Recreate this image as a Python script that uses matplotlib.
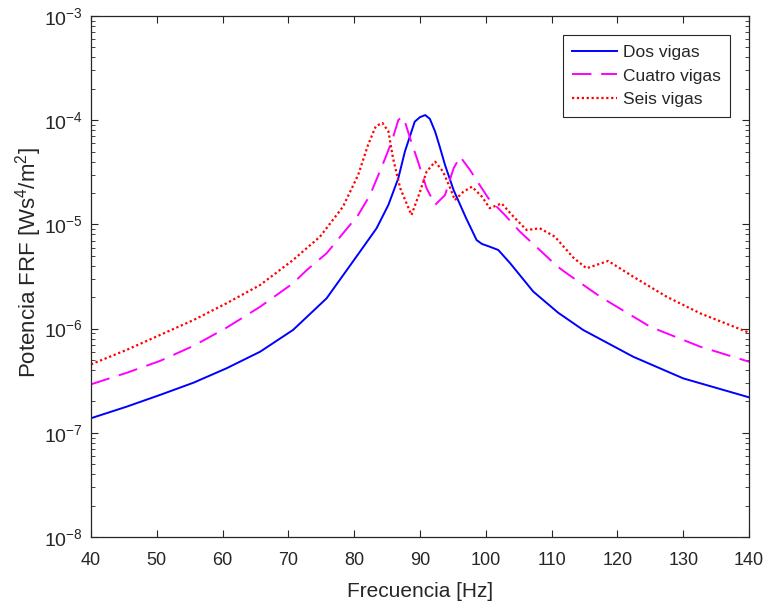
import matplotlib
matplotlib.use("Agg")
import matplotlib.pyplot as plt
from matplotlib.ticker import LogLocator, NullFormatter

plt.rcParams['font.family'] = ['Liberation Sans', 'DejaVu Sans']
plt.rcParams['mathtext.fontset'] = 'custom'
plt.rcParams['mathtext.rm'] = 'Liberation Sans'
plt.rcParams['mathtext.it'] = 'Liberation Sans:italic'
plt.rcParams['mathtext.default'] = 'regular'

# ---- data ----
freq_dos = [40, 45.4, 50.5, 55.6, 60.6, 65.7, 70.7, 75.8, 80.9, 83.4, 85.2, 86.7, 87.7,
            89.2, 90.0, 90.8, 91.5, 92.3, 93.0, 93.8, 95.1, 97.0, 98.6, 99.4, 100.6, 101.9,
            103.7, 107.2, 111.0, 114.8, 122.4, 130.0, 140]
pot_dos = [1.38e-7, 1.78e-7, 2.31e-7, 3.03e-7, 4.16e-7, 6.0e-7, 9.7e-7, 1.95e-6, 5.5e-6,
           9.18e-6, 1.54e-5, 2.77e-5, 4.99e-5, 9.68e-5, 1.07e-4, 1.12e-4, 1.03e-4, 7.76e-5,
           5.57e-5, 3.72e-5, 2.14e-5, 1.15e-5, 7.08e-6, 6.5e-6, 6.11e-6, 5.68e-6, 4.24e-6,
           2.27e-6, 1.42e-6, 9.7e-7, 5.37e-7, 3.33e-7, 2.19e-7]

freq_cuatro = [40, 45.4, 50.5, 55.6, 60.6, 65.7, 70.7, 72.8, 75.8, 80.6, 82.4, 84.2, 85.7,
               86.7, 87.2, 87.7, 88.5, 89.7, 91.0, 92.3, 93.8, 95.1, 96.1, 97.6, 98.9,
               100.4, 102.9, 105.2, 108.2, 110.8, 112.3, 117.4, 125.0, 132.6, 140]
pot_cuatro = [2.92e-7, 3.76e-7, 4.9e-7, 6.84e-7, 1.02e-6, 1.62e-6, 2.72e-6, 3.65e-6,
              5.28e-6, 1.23e-5, 1.91e-5, 3.58e-5, 6.22e-5, 1.0e-4, 1.08e-4, 9.7e-5, 6.7e-5,
              4.0e-5, 2.22e-5, 1.54e-5, 1.91e-5, 3.45e-5, 4.47e-5, 3.33e-5, 2.48e-5,
              1.78e-5, 1.23e-5, 8.5e-6, 5.68e-6, 3.98e-6, 3.39e-6, 2.02e-6, 1.04e-6,
              6.7e-7, 4.81e-7]

freq_seis = [40, 45.4, 50.5, 55.6, 60.6, 65.7, 70.7, 74.8, 78.3, 80.6, 82.1, 83.3, 84.3,
             85.2, 85.9, 87.0, 88.7, 90.0, 91.0, 92.3, 93.5, 94.6, 95.3, 96.6, 97.9, 99.4,
             100.6, 102.4, 104.2, 106.2, 108.2, 110.5, 113.3, 115.3, 118.6, 122.4, 127.5,
             132.6, 140]
pot_seis = [4.54e-7, 6.24e-7, 8.69e-7, 1.21e-6, 1.75e-6, 2.62e-6, 4.55e-6, 7.62e-6,
            1.48e-5, 2.98e-5, 5.78e-5, 8.8e-5, 9.4e-5, 7.8e-5, 4.31e-5, 2.22e-5, 1.23e-5,
            2.06e-5, 3.21e-5, 4.0e-5, 3.21e-5, 2.22e-5, 1.71e-5, 2.06e-5, 2.30e-5, 1.85e-5,
            1.43e-5, 1.59e-5, 1.19e-5, 8.83e-6, 9.18e-6, 7.62e-6, 4.8e-6, 3.79e-6, 4.46e-6,
            3.15e-6, 2.02e-6, 1.40e-6, 9.14e-7]

labels = ['Dos vigas', 'Cuatro vigas', 'Seis vigas']
x_ticks = [40, 50, 60, 70, 80, 90, 100, 110, 120, 130, 140]

# ---- figure ----
W, H = 767, 607
fig = plt.figure(figsize=(W / 100, H / 100), dpi=100)
ax = fig.add_axes([91 / W, 1 - 537 / H, (749 - 91) / W, (537 - 16) / H])

ax.plot(freq_dos, pot_dos, color='#0000ff', lw=1.4, label=labels[0])
ax.plot(freq_cuatro, pot_cuatro, color='#ff00ff', lw=1.4, ls=(0, (10, 5)), label=labels[1])
ax.plot(freq_seis, pot_seis, color='#ff0000', lw=1.6, ls=(0, (1, 1.2)), label=labels[2])

ax.set_yscale('log')
ax.set_xlim(40, 140)
ax.set_ylim(1e-8, 1e-3)
ax.set_xticks(x_ticks)
ax.yaxis.set_major_locator(LogLocator(base=10, numticks=10))
ax.yaxis.set_minor_locator(LogLocator(base=10, subs=range(2, 10), numticks=20))
ax.yaxis.set_minor_formatter(NullFormatter())

axc = '#262626'
for s in ax.spines.values():
    s.set_color(axc)
    s.set_linewidth(0.9)
ax.tick_params(which='both', direction='in', top=True, right=True, colors=axc,
               labelcolor=axc)
ax.tick_params(which='major', length=5, width=0.8)
ax.tick_params(which='minor', length=3, width=0.6)
ax.tick_params(axis='x', pad=11, labelsize=13)
ax.tick_params(axis='y', pad=6, labelsize=14)

ax.set_xlabel('Frecuencia [Hz]', fontsize=15, color=axc, labelpad=9)
ax.set_ylabel('Potencia FRF [Ws$^4$/m$^2$]', fontsize=16, color=axc)
ax.yaxis.set_label_coords(-0.072, 0.526)

leg = ax.legend(loc='upper right', bbox_to_anchor=((730 - 91) / 658, 1 - (35 - 16) / 521),
                borderaxespad=0, fontsize=12.5, frameon=True, fancybox=False,
                edgecolor=axc, framealpha=1, handlelength=2.6, handletextpad=0.3,
                labelspacing=0.5, borderpad=0.55)
leg.get_frame().set_linewidth(0.8)
for t in leg.get_texts():
    t.set_color(axc)

fig.savefig('out.png', dpi=100)
